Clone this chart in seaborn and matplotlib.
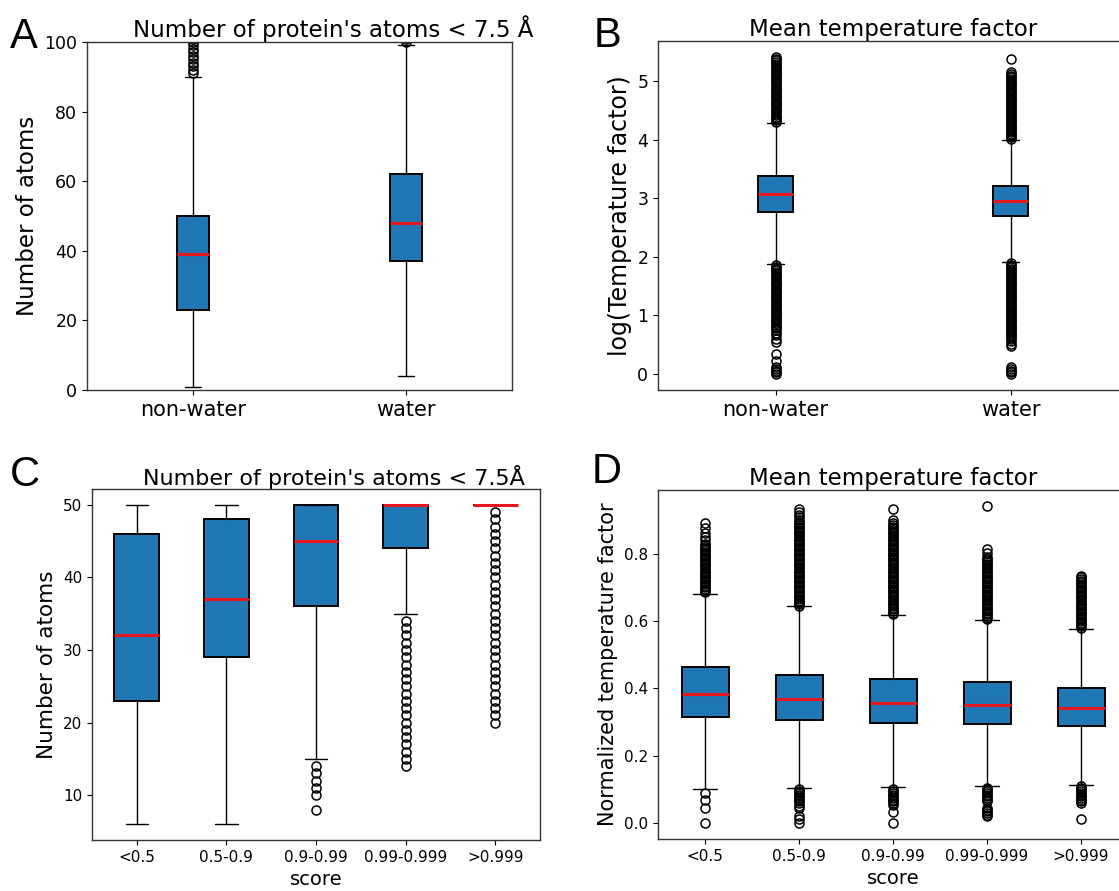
import matplotlib
matplotlib.use("Agg")
import matplotlib.pyplot as plt
import seaborn as sns

sns.set_style("ticks")
plt.rcParams['font.family'] = ['DejaVu Sans']
plt.rcParams['axes.linewidth'] = 1.0
for key in ['text.color', 'axes.labelcolor', 'xtick.color', 'ytick.color']:
    plt.rcParams[key] = 'black'

# ---- panel A: number of atoms, water vs non-water
a_labels = ['non-water', 'water']
a_q1 = [23, 37]
a_med = [39, 48]
a_q3 = [50, 62]
a_lo = [1, 4]
a_hi = [90, 99]
a_fliers = [
    [91, 92, 93, 94, 95, 96, 97, 98, 99, 100, 101, 102, 103],
    [100, 101, 102, 103],
]

# ---- panel B: log temperature factor
b_labels = ['non-water', 'water']
b_q1 = [2.77, 2.69]
b_med = [3.07, 2.95]
b_q3 = [3.38, 3.21]
b_lo = [1.88, 1.91]
b_hi = [4.28, 3.99]
b_fliers = [
    [4.30, 4.33, 4.36, 4.39, 4.42, 4.45, 4.48, 4.51, 4.54, 4.57, 4.60, 4.63,
     4.66, 4.69, 4.72, 4.75, 4.78, 4.81, 4.84, 4.87, 4.90, 4.93, 4.96, 4.99,
     5.02, 5.05, 5.08, 5.11, 5.14, 5.17, 5.20, 5.23, 5.26, 5.29, 5.32, 5.35,
     5.38, 5.41,
     1.86, 1.83, 1.80, 1.77, 1.74, 1.71, 1.68, 1.65, 1.62, 1.59, 1.56, 1.53,
     1.50, 1.47, 1.44, 1.41, 1.38, 1.35, 1.32, 1.29, 1.26, 1.23, 1.20, 1.17,
     1.14, 1.11, 1.08, 1.05, 1.02, 0.99, 0.96, 0.93, 0.90, 0.87, 0.84, 0.81,
     0.78, 0.75, 0.70, 0.66, 0.60, 0.55, 0.34, 0.22,
     0.12, 0.09, 0.06, 0.03, 0.0],
    [4.01, 4.04, 4.07, 4.10, 4.13, 4.16, 4.19, 4.22, 4.25, 4.28, 4.31, 4.34,
     4.37, 4.40, 4.43, 4.46, 4.49, 4.52, 4.55, 4.58, 4.61, 4.64, 4.67, 4.70,
     4.73, 4.76, 4.79, 4.82, 4.85, 4.88, 4.91, 4.94, 4.97, 5.00, 5.03, 5.06,
     5.09, 5.12, 5.15, 5.38,
     1.89, 1.86, 1.83, 1.80, 1.77, 1.74, 1.71, 1.68, 1.65, 1.62, 1.59, 1.56,
     1.53, 1.50, 1.47, 1.44, 1.41, 1.38, 1.35, 1.32, 1.29, 1.26, 1.23, 1.20,
     1.17, 1.14, 1.11, 1.08, 1.05, 1.02, 0.99, 0.96, 0.93, 0.90, 0.87, 0.84,
     0.81, 0.78, 0.75, 0.72, 0.69, 0.66, 0.63, 0.60, 0.57, 0.52, 0.48,
     0.12, 0.09, 0.06, 0.03, 0.0],
]

# ---- panel C: number of atoms by score
score_labels = ['<0.5', '0.5-0.9', '0.9-0.99', '0.99-0.999', '>0.999']
c_q1 = [23, 29, 36, 44, 50]
c_med = [32, 37, 45, 50, 50]
c_q3 = [46, 48, 50, 50, 50]
c_lo = [6, 6, 15, 35, 50]
c_hi = [50, 50, 50, 50, 50]
c_fliers = [
    [],
    [],
    [14, 13, 12, 11, 10, 8],
    [34, 33, 32, 31, 30, 29, 28, 27, 26, 25, 24, 23, 22, 21, 20, 19, 18, 17,
     16, 15, 14],
    [49, 48, 47, 46, 45, 44, 43, 42, 41, 40, 39, 38, 37, 36, 35, 34, 33, 32,
     31, 30, 29, 28, 27, 26, 25, 24, 23, 22, 21, 20],
]

# ---- panel D: normalized temperature factor by score
d_q1 = [0.316, 0.306, 0.298, 0.294, 0.288]
d_med = [0.382, 0.370, 0.358, 0.352, 0.343]
d_q3 = [0.463, 0.441, 0.427, 0.419, 0.402]
d_lo = [0.100, 0.105, 0.106, 0.110, 0.113]
d_hi = [0.680, 0.644, 0.619, 0.604, 0.576]
d_fliers = [
    [0.685, 0.690, 0.695, 0.700, 0.705, 0.710, 0.715, 0.720, 0.725, 0.730,
     0.735, 0.740, 0.745, 0.750, 0.755, 0.760, 0.765, 0.770, 0.775, 0.780,
     0.785, 0.790, 0.795, 0.800, 0.805, 0.810, 0.815, 0.820, 0.825, 0.830,
     0.840, 0.850, 0.861, 0.875, 0.891,
     0.090, 0.070, 0.045, 0.0],
    [0.645, 0.650, 0.655, 0.660, 0.665, 0.670, 0.675, 0.680, 0.685, 0.690,
     0.695, 0.700, 0.705, 0.710, 0.715, 0.720, 0.725, 0.730, 0.735, 0.740,
     0.745, 0.750, 0.755, 0.760, 0.765, 0.770, 0.775, 0.780, 0.785, 0.790,
     0.795, 0.800, 0.805, 0.810, 0.815, 0.820, 0.825, 0.830, 0.835, 0.840,
     0.845, 0.850, 0.855, 0.860, 0.865, 0.870, 0.875, 0.880, 0.885, 0.890,
     0.895, 0.900, 0.908, 0.916, 0.924, 0.934,
     0.100, 0.095, 0.090, 0.085, 0.080, 0.075, 0.070, 0.065, 0.060, 0.050,
     0.045, 0.020, 0.012, 0.0],
    [0.620, 0.625, 0.630, 0.635, 0.640, 0.645, 0.650, 0.655, 0.660, 0.665,
     0.670, 0.675, 0.680, 0.685, 0.690, 0.695, 0.700, 0.705, 0.710, 0.715,
     0.720, 0.725, 0.730, 0.735, 0.740, 0.745, 0.750, 0.755, 0.760, 0.765,
     0.770, 0.775, 0.780, 0.785, 0.790, 0.795, 0.800, 0.805, 0.810, 0.815,
     0.820, 0.825, 0.830, 0.835, 0.840, 0.845, 0.850, 0.855, 0.860, 0.865,
     0.870, 0.875, 0.880, 0.885, 0.890, 0.900, 0.934,
     0.100, 0.095, 0.090, 0.085, 0.080, 0.075, 0.070, 0.065, 0.060, 0.055,
     0.033, 0.0],
    [0.605, 0.610, 0.615, 0.620, 0.625, 0.630, 0.635, 0.640, 0.645, 0.650,
     0.655, 0.660, 0.665, 0.670, 0.675, 0.680, 0.685, 0.690, 0.695, 0.700,
     0.705, 0.710, 0.715, 0.720, 0.725, 0.730, 0.735, 0.740, 0.745, 0.750,
     0.755, 0.760, 0.765, 0.770, 0.775, 0.780, 0.785, 0.790, 0.803, 0.813,
     0.942,
     0.105, 0.100, 0.095, 0.090, 0.085, 0.080, 0.075, 0.070, 0.065, 0.045,
     0.040, 0.035, 0.030, 0.025, 0.020],
    [0.580, 0.585, 0.590, 0.595, 0.600, 0.605, 0.610, 0.615, 0.620, 0.625,
     0.630, 0.635, 0.640, 0.645, 0.650, 0.655, 0.660, 0.665, 0.670, 0.675,
     0.680, 0.685, 0.690, 0.695, 0.700, 0.705, 0.710, 0.715, 0.720, 0.725,
     0.730, 0.735,
     0.110, 0.105, 0.100, 0.095, 0.090, 0.085, 0.080, 0.075, 0.070, 0.065,
     0.060, 0.012],
]


def make_stats(labels, q1, med, q3, lo, hi, fliers):
    out = []
    for i, lab in enumerate(labels):
        out.append(dict(label=lab, q1=q1[i], med=med[i], q3=q3[i],
                        whislo=lo[i], whishi=hi[i], fliers=fliers[i]))
    return out


def draw(ax, stats):
    ax.bxp(stats, patch_artist=True, showfliers=True,
           boxprops=dict(facecolor='#1f77b4', edgecolor='black', linewidth=1.4),
           medianprops=dict(color='#e8171f', linewidth=2.2),
           whiskerprops=dict(color='black', linewidth=1.0),
           capprops=dict(color='black', linewidth=1.0),
           flierprops=dict(marker='o', markerfacecolor='none',
                           markeredgecolor='black', markersize=6.5,
                           markeredgewidth=1.1))
    for sp in ax.spines.values():
        sp.set_color('#333333')


W, H = 1119, 891
fig = plt.figure(figsize=(W / 100, H / 100), dpi=100)


def box(l, t, r, b):
    return [l / W, 1 - b / H, (r - l) / W, (b - t) / H]


axA = fig.add_axes(box(87, 42, 512, 390))
axB = fig.add_axes(box(658, 41, 1128, 390))
axC = fig.add_axes(box(92, 489, 540, 840))
axD = fig.add_axes(box(658, 490, 1128, 839))

draw(axA, make_stats(a_labels, a_q1, a_med, a_q3, a_lo, a_hi, a_fliers))
axA.set_ylim(0, 100)
axA.set_yticks([0, 20, 40, 60, 80, 100])
axA.set_ylabel('Number of atoms', fontsize=16.5)
axA.set_title("Number of protein's atoms < 7.5 Å", fontsize=16.5, x=0.58, pad=1)
axA.tick_params(axis='y', labelsize=12.5)
axA.tick_params(axis='x', labelsize=15)

draw(axB, make_stats(b_labels, b_q1, b_med, b_q3, b_lo, b_hi, b_fliers))
axB.set_yticks([0, 1, 2, 3, 4, 5])
axB.set_ylabel('log(Temperature factor)', fontsize=17)
axB.set_title('Mean temperature factor', fontsize=16.5, pad=3)
axB.tick_params(axis='y', labelsize=12.5)
axB.tick_params(axis='x', labelsize=15)

draw(axC, make_stats(score_labels, c_q1, c_med, c_q3, c_lo, c_hi, c_fliers))
axC.set_yticks([10, 20, 30, 40, 50])
axC.set_ylabel('Number of atoms', fontsize=15.5)
axC.set_xlabel('score', fontsize=14)
axC.set_title("Number of protein's atoms < 7.5Å", fontsize=16, x=0.54, pad=1.5)
axC.tick_params(axis='both', labelsize=11)

draw(axD, make_stats(score_labels, d_q1, d_med, d_q3, d_lo, d_hi, d_fliers))
axD.set_yticks([0.0, 0.2, 0.4, 0.6, 0.8])
axD.set_ylabel('Normalized temperature factor', fontsize=15)
axD.set_xlabel('score', fontsize=14)
axD.set_title('Mean temperature factor', fontsize=16.5, pad=3)
axD.tick_params(axis='both', labelsize=11)

for letter, x, y in [('A', 10, 48), ('B', 594, 47), ('C', 10, 486), ('D', 592, 483)]:
    fig.text(x / W, 1 - y / H, letter, fontsize=30, family='Liberation Sans',
             color='black', ha='left', va='baseline')

fig.savefig('out.png', dpi=100)
